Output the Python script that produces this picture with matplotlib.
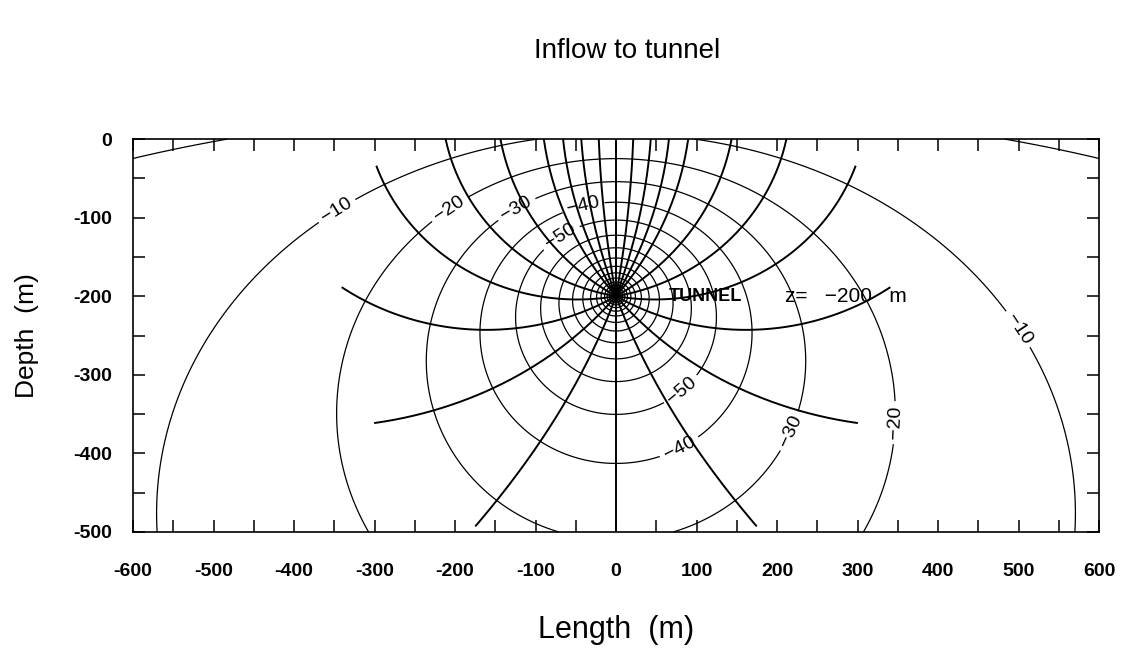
import numpy as np
import matplotlib
matplotlib.use('Agg')
import matplotlib.pyplot as plt
from matplotlib.ticker import MultipleLocator

plt.rcParams['font.family'] = ['Liberation Sans', 'DejaVu Sans']
plt.rcParams['axes.unicode_minus'] = False

# tunnel and flow-net parameters (fitted to the contours in the picture)
tunnel_x = 0.0
tunnel_z = -200.0
top_z = 50.0             # fixed-head plane above
bottom_z = -1600.0       # fixed-head plane below
head_scale = 37.7
head_offset = 2.9
head_levels = [0, -10, -20, -30, -40, -50, -60, -70, -80, -90, -100,
               -110, -120, -130, -140, -150]
# departure angle of each streamline at the tunnel, deg from straight down
stream_angles = [-170, -160, -150, -140, -120, -100, -80, -60, -40, -20, 0,
                 20, 40, 60, 80, 100, 120, 140, 150, 160, 170, 180]
stream_rmax = 340.0      # streamlines traced out to this distance from the tunnel

# contour labels: level and where it sits
label_levels = [-10, -10, -20, -20, -30, -30, -40, -40, -50, -50]
label_x = [-345, 498, -206, 349, -123, 212, -41, 80, -70, 80]
label_z = [-94, -243, -90, -361, -90, -370, -84, -395, -122, -318]

xticks = [-600, -500, -400, -300, -200, -100, 0, 100, 200, 300, 400, 500, 600]
zticks = [-500, -400, -300, -200, -100, 0]

# strip bottom_z < z < top_z mapped onto the upper half plane
width = top_z - bottom_z
zeta_t = np.exp(1j*np.pi*(tunnel_z - bottom_z)/width)


def to_zeta(xx, zz):
    return np.exp(np.pi*((xx - tunnel_x) + 1j*(zz - bottom_z))/width)


fig = plt.figure(figsize=(11.3, 6.51), dpi=100)
ax = fig.add_axes([133/1130, 1-532/651, (1099-133)/1130, (532-139)/651])

# head field (equipotentials)
x = np.linspace(xticks[0], xticks[-1], 2401)
z = np.linspace(zticks[0], zticks[-1], 1001)
X, Z = np.meshgrid(x, z)
zeta = to_zeta(X, Z)
ratio = np.fmax(np.abs(zeta - zeta_t), 1e-9) / np.abs(zeta - np.conj(zeta_t))
H = head_scale*np.log(ratio) + head_offset

lab_set = sorted(set(label_levels))
rest = sorted(v for v in head_levels if v not in lab_set)
ax.contour(X, Z, H, levels=rest, colors='k', linewidths=0.9, linestyles='solid')
cs = ax.contour(X, Z, H, levels=lab_set, colors='k', linewidths=0.9, linestyles='solid')
fmt = lambda v: '\u2212%d' % abs(v)
ax.clabel(cs, manual=list(zip(label_x, label_z)),
          inline=True, inline_spacing=5, fmt=fmt, fontsize=14)

# streamlines: lines of constant arg of the same ratio
alpha = np.angle(zeta_t)
rho = np.linspace(0, 0.995, 8000)
T = complex(tunnel_x, tunnel_z)
for ang in stream_angles:
    R = rho*np.exp(1j*(np.deg2rad(ang) + alpha - np.pi))
    zz = (zeta_t - R*np.conj(zeta_t))/(1 - R)
    w = width/np.pi*np.log(zz)
    w = w.real + tunnel_x + 1j*(w.imag + bottom_z)
    keep = np.cumprod(np.abs(w - T) <= stream_rmax).astype(bool)
    ax.plot(w.real[keep], w.imag[keep], color='k', lw=1.4)

ax.text(65, -200, 'TUNNEL', va='center', ha='left', fontsize=13, fontweight='bold')
ax.text(210, -200, 'z=   \u2212200   m', va='center', ha='left', fontsize=15)

ax.set_xlim(xticks[0], xticks[-1])
ax.set_ylim(zticks[0], zticks[-1])
ax.set_xticks(xticks)
ax.set_yticks(zticks)
ax.xaxis.set_minor_locator(MultipleLocator(50))
ax.yaxis.set_minor_locator(MultipleLocator(50))
ax.tick_params(which='both', direction='in', length=8.5, width=1.1,
               top=True, right=True, labelsize=14)
ax.tick_params(axis='x', pad=22)
ax.tick_params(axis='y', pad=15)
for lab in ax.get_xticklabels() + ax.get_yticklabels():
    lab.set_fontweight('bold')
for sp in ax.spines.values():
    sp.set_linewidth(1.2)

ax.set_xlabel('Length  (m)', fontsize=22)
ax.xaxis.set_label_coords(0.5, -0.21)
ax.set_ylabel('Depth  (m)', fontsize=19)
ax.yaxis.set_label_coords(-0.097, 0.5)
fig.text(627/1130, 1-51/651, 'Inflow to tunnel', ha='center', va='center', fontsize=20)

fig.savefig('out.png', dpi=100)
